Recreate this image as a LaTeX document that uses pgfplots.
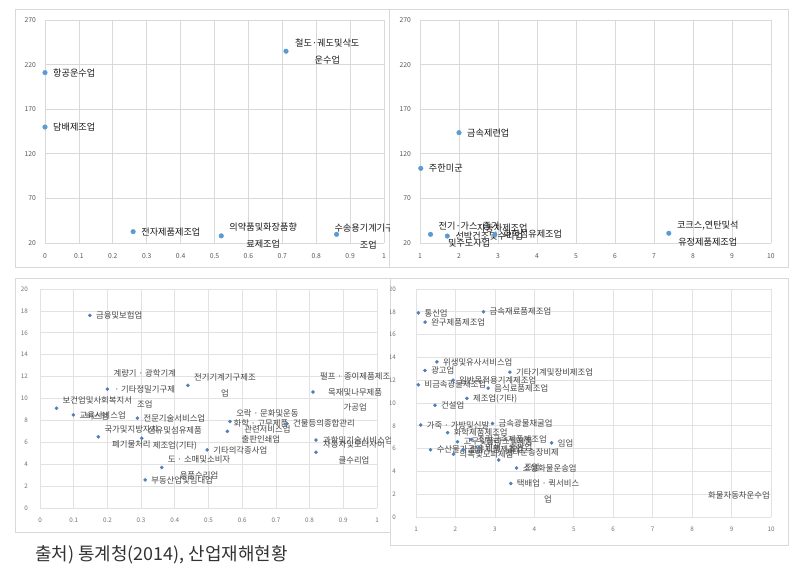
\documentclass[border=0pt]{standalone}
\usepackage{fontspec}
\setmainfont{Noto Sans CJK KR}
\usepackage{pgfplots}
\pgfplotsset{compat=1.18}
\definecolor{dotblue}{HTML}{5B9BD5}
\definecolor{dotblue2}{HTML}{4F7FB8}
\definecolor{gridc}{HTML}{D9D9D9}
\definecolor{gridb}{HTML}{E2E2E2}
\definecolor{framec}{HTML}{D9D9D9}
\definecolor{tickc}{HTML}{595959}
\definecolor{labb}{HTML}{454545}
\tikzset{
  lt/.style={font=\fontsize{9.2}{17}\selectfont, text=black!90, inner sep=0pt, align=center, anchor=west, xshift=8bp},
  lb/.style={font=\fontsize{8.4}{15.5}\selectfont, text=labb, inner sep=0pt, align=center, anchor=west, xshift=6bp},
}
\pgfplotsset{
  every axis/.append style={
    scale only axis, clip=false,
    axis line style={draw=none},
    major tick length=0pt,
    grid=major,
    major grid style={draw=gridc, line width=0.7bp},
    /pgf/number format/assume math mode=true,
    tick label style={font=\fontsize{6.8}{7}\selectfont, text=tickc, inner sep=0pt},
  },
  toppanel/.style={
    width=339bp, height=223bp, ymin=20, ymax=270,
    ytick={20,70,120,170,220,270},
    yticklabel style={anchor=east, xshift=-9bp},
    xticklabel style={anchor=center, yshift=-13bp},
  },
  botpanel/.style={
    ymin=0, ymax=20,
    ytick={0,2,4,6,8,10,12,14,16,18,20},
    major grid style={draw=gridb, line width=0.7bp},
    tick label style={font=\fontsize{6.3}{7}\selectfont, text=black!55, inner sep=0pt},
    yticklabel style={anchor=east, xshift=-12bp},
    xticklabel style={anchor=center, yshift=-12bp},
  },
}
\begin{document}
\begin{tikzpicture}
\useasboundingbox (0bp,0bp) rectangle (803bp,584bp);
\fill[white] (0bp,0bp) rectangle (803bp,584bp);
% chart area frames
\draw[framec, line width=0.8bp] (15bp,317bp) rectangle (389bp,575bp);
\draw[framec, line width=0.8bp] (389bp,317bp) rectangle (788bp,575bp);
\draw[framec, line width=0.8bp] (15bp,52bp) rectangle (390bp,306bp);
\draw[framec, line width=0.8bp] (390bp,39bp) rectangle (788bp,306bp);

% ---------------- top left ----------------
\begin{scope}
\clip (15bp,317bp) rectangle (389bp,575bp);
\begin{axis}[toppanel, at={(45bp,341bp)}, anchor=south west,
  xmin=0, xmax=1,
  xtick={0,0.1,0.2,0.3,0.4,0.5,0.6,0.7,0.8,0.9,1},
  xticklabels={0,0.1,0.2,0.3,0.4,0.5,0.6,0.7,0.8,0.9,1}]
\addplot[only marks, mark=*, mark size=2.3bp, mark options={draw=dotblue, fill=dotblue}]
  coordinates {(0,211) (0,150) (0.711,235) (0.26,32.7) (0.52,28) (0.86,29.7)};
\node[lt] at (axis cs:0,211) {항공운수업};
\node[lt] at (axis cs:0,150) {담배제조업};
\node[lt, xshift=1bp] at (axis cs:0.711,235) {철도·궤도및삭도\\운수업};
\node[lt] at (axis cs:0.26,32.7) {전자제품제조업};
\node[lt] at (axis cs:0.52,28) {의약품및화장품향\\료제조업};
\node[lt, anchor=center, xshift=0bp] at (axis cs:0.93,27.5) {수송용기계기구제\\조업};
\end{axis}
\end{scope}

% ---------------- top right ----------------
\begin{scope}
\clip (389bp,317bp) rectangle (788bp,575bp);
\begin{axis}[toppanel, at={(420bp,341bp)}, anchor=south west, width=351bp,
  xmin=1, xmax=10, xtick={1,2,3,4,5,6,7,8,9,10}]
\addplot[only marks, mark=*, mark size=2.3bp, mark options={draw=dotblue, fill=dotblue}]
  coordinates {(2.0,143.7) (1.02,103.7) (1.27,29.7) (1.70,27.8) (2.92,29.5) (7.38,30.9)};
\node[lt] at (axis cs:2.0,143.7) {금속제련업};
\node[lt] at (axis cs:1.02,103.7) {주한미군};
\node[lt] at (axis cs:1.27,29.7) {전기·가스·증기\\및수도사업};
\node[lt, xshift=0bp] at (axis cs:1.70,27.8) {선박건조및수리업};
\node[lt, xshift=0bp] at (axis cs:2.92,29.5) {화학섬유제조업};
\node[lt, xshift=2bp] at (axis cs:2.2,37) {자동차제조업};
\node[lt] at (axis cs:7.38,30.9) {코크스,연탄및석\\유정제품제조업};
\end{axis}
\end{scope}

% ---------------- bottom left ----------------
\begin{scope}
\clip (15bp,52bp) rectangle (390bp,306bp);
\begin{axis}[botpanel, at={(40bp,76bp)}, anchor=south west, width=337bp, height=219bp,
  xmin=0, xmax=1,
  xtick={0,0.1,0.2,0.3,0.4,0.5,0.6,0.7,0.8,0.9,1},
  xticklabels={0,0.1,0.2,0.3,0.4,0.5,0.6,0.7,0.8,0.9,1}]
\addplot[only marks, mark=*, mark size=1.6bp, mark options={draw=dotblue2, fill=dotblue2}]
  coordinates {(0.148,17.6) (0.20,10.85) (0.049,9.1) (0.099,8.5) (0.289,8.2)
  (0.173,6.5) (0.302,6.37) (0.361,3.7) (0.312,2.56) (0.439,11.2)
  (0.564,7.9) (0.556,7.0) (0.496,5.3) (0.733,7.7) (0.81,10.6) (0.819,6.2) (0.819,5.1)};
\node[lb] at (axis cs:0.148,17.6) {금융및보험업};
\node[lb] at (axis cs:0.20,10.85) {계량기 · 광학기계\\· 기타정밀기구제\\조업};
\node[lb] at (axis cs:0.049,9.1) {보건업및사회복지서\\비스업};
\node[lb] at (axis cs:0.099,8.5) {교육서비스업};
\node[lb] at (axis cs:0.289,8.2) {전문기술서비스업};
\node[lb] at (axis cs:0.173,6.5) {국가및지방자치\\폐기물처리};
\node[lb] at (axis cs:0.302,6.37) {섬유및섬유제품\\제조업(기타)};
\node[lb] at (axis cs:0.361,3.7) {도 · 소매및소비자\\용품수리업};
\node[lb] at (axis cs:0.312,2.56) {부동산업및임대업};
\node[lb] at (axis cs:0.439,11.2) {전기기계기구제조\\업};
\node[lb] at (axis cs:0.564,7.9) {오락 · 문화및운동\\관련서비스업};
\node[lb] at (axis cs:0.556,7.0) {화학 · 고무제품\\출판인쇄업};
\node[lb] at (axis cs:0.496,5.3) {기타의각종사업};
\node[lb] at (axis cs:0.733,7.7) {건물등의종합관리};
\node[lb, xshift=1bp] at (axis cs:0.81,10.6) {펄프 · 종이제품제조\\목재및나무제품\\가공업};
\node[lb, xshift=1bp] at (axis cs:0.819,6.2) {과학및기술서비스업};
\node[lb, xshift=1bp] at (axis cs:0.819,5.1) {자동차및모터사이\\클수리업};
\end{axis}
\end{scope}

% ---------------- bottom right ----------------
\begin{scope}
\clip (390bp,39bp) rectangle (788bp,306bp);
\begin{axis}[botpanel, at={(416bp,67bp)}, anchor=south west, width=355bp, height=228bp,
  xmin=1, xmax=10, xtick={1,2,3,4,5,6,7,8,9,10},
  yticklabel style={xshift=-8bp}]
\addplot[only marks, mark=*, mark size=1.6bp, mark options={draw=dotblue2, fill=dotblue2}]
  coordinates {(1.06,17.9) (1.23,17.1) (2.71,18.0) (1.23,12.85) (1.06,11.6)
  (1.48,9.8) (1.12,8.07) (2.94,8.2) (1.37,5.9) (4.44,6.5) (3.40,2.94) (3.55,4.3)
  (1.53,13.6) (3.38,12.7) (1.94,12.0) (2.83,11.3) (2.29,10.4)
  (1.8,7.4) (2.05,6.6) (2.4,6.8) (2.2,5.9) (1.95,5.5) (2.6,6.1) (3.1,5.0)};
\node[lb] at (axis cs:1.06,17.9) {통신업};
\node[lb] at (axis cs:1.23,17.1) {완구제품제조업};
\node[lb] at (axis cs:2.71,18.0) {금속재료품제조업};
\node[lb] at (axis cs:1.23,12.85) {광고업};
\node[lb] at (axis cs:1.06,11.6) {비금속광물제조업};
\node[lb] at (axis cs:1.48,9.8) {건설업};
\node[lb] at (axis cs:1.12,8.07) {가죽 · 가방및신발};
\node[lb] at (axis cs:2.94,8.2) {금속광물채굴업};
\node[lb] at (axis cs:1.37,5.9) {수산물가공업};
\node[lb] at (axis cs:4.44,6.5) {임업};
\node[lb, yshift=-8bp] at (axis cs:3.40,2.94) {택배업 · 퀵서비스\\업};
\node[lb] at (axis cs:3.55,4.3) {소형화물운송업};
\node[lb] at (axis cs:1.53,13.6) {위생및유사서비스업};
\node[lb] at (axis cs:3.38,12.7) {기타기계및장비제조업};
\node[lb] at (axis cs:1.94,12.0) {일반목적용기계제조업};
\node[lb] at (axis cs:2.83,11.3) {음식료품제조업};
\node[lb] at (axis cs:2.29,10.4) {제조업(기타)};
\node[lb] at (axis cs:1.8,7.4) {화학제품제조업};
\node[lb] at (axis cs:2.05,6.6) {고무및플라스틱제품};
\node[lb] at (axis cs:2.4,6.8) {조립금속제품제조업};
\node[lb] at (axis cs:2.2,5.9) {섬유제품제조업};
\node[lb] at (axis cs:1.95,5.5) {의복및모피제품};
\node[lb] at (axis cs:2.6,6.1) {인쇄 · 출판업};
\node[lb] at (axis cs:3.1,5.0) {기타운송장비제\\조업};
\node[lb, xshift=0bp] at (axis cs:8.25,1.9) {화물자동차운수업};
\end{axis}
\end{scope}

% caption
\node[anchor=west, inner sep=0pt, font=\fontsize{18}{20}\selectfont, text=black!80] at (35bp,29bp) {출처) 통계청(2014), 산업재해현황};
\end{tikzpicture}
\end{document}
